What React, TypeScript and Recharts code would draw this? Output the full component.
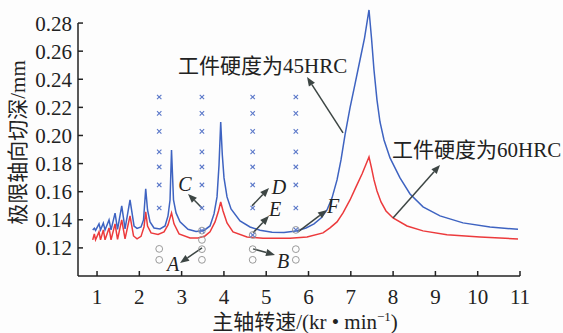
import React from 'react';
import {
  ComposedChart,
  Line,
  Scatter,
  XAxis,
  YAxis,
  ReferenceLine,
  ReferenceDot
} from 'recharts';

// 工件硬度 45HRC 的稳定性叶瓣 (蓝)
const blueSpeed = [
  0.898, 0.936, 0.965, 1.047, 1.083, 1.149, 1.189, 1.284, 1.331, 1.426, 1.485, 1.584,
  1.662, 1.78, 1.875, 1.946, 2.04, 2.099, 2.151, 2.194, 2.253, 2.347, 2.489, 2.608,
  2.678, 2.726, 2.761, 2.808, 2.868, 2.962, 3.151, 3.34, 3.53, 3.671, 3.766, 3.837,
  3.884, 3.924, 3.962, 4.002, 4.073, 4.168, 4.381, 4.617, 4.854, 5.138, 5.421, 5.705,
  5.941, 6.13, 6.296, 6.437, 6.556, 6.674, 6.768, 6.863, 6.981, 7.099, 7.217, 7.324,
  7.43, 7.489, 7.548, 7.619, 7.69, 7.785, 7.927, 8.163, 8.4, 8.707, 9.109, 9.652, 10.291, 10.953
];
const blueDepth = [
  0.1328, 0.134, 0.1324, 0.1371, 0.1328, 0.1376, 0.1328, 0.1399, 0.1328, 0.1447, 0.1332, 0.1499,
  0.1335, 0.1541, 0.1356, 0.1339, 0.1349, 0.1399, 0.162, 0.147, 0.1385, 0.1342, 0.1335, 0.1356,
  0.1428, 0.1541, 0.1897, 0.1541, 0.1449, 0.1385, 0.1332, 0.1317, 0.1324, 0.1356, 0.1442, 0.1563,
  0.179, 0.2096, 0.1861, 0.1698, 0.1563, 0.1477, 0.1392, 0.1349, 0.1325, 0.1312, 0.131, 0.1321,
  0.1342, 0.1371, 0.1413, 0.147, 0.1556, 0.1684, 0.1826, 0.2004, 0.2196, 0.2366, 0.2537, 0.2693,
  0.2893, 0.2694, 0.2466, 0.2252, 0.2096, 0.1968, 0.184, 0.1698, 0.1584, 0.1492, 0.1428, 0.1378, 0.1349, 0.1332
];

// 工件硬度 60HRC 的稳定性叶瓣 (红)
const redSpeed = [
  0.898, 0.936, 0.965, 1.047, 1.083, 1.149, 1.189, 1.284, 1.331, 1.426, 1.485, 1.584,
  1.662, 1.78, 1.863, 1.946, 2.04, 2.111, 2.151, 2.194, 2.277, 2.442, 2.584, 2.678,
  2.761, 2.82, 2.939, 3.199, 3.388, 3.553, 3.671, 3.79, 3.872, 3.924, 3.979, 4.073,
  4.215, 4.546, 4.924, 5.563, 5.965, 6.343, 6.508, 6.674, 6.816, 6.981, 7.123, 7.265,
  7.43, 7.489, 7.548, 7.619, 7.714, 7.832, 7.998, 8.329, 8.707, 9.274, 10.054, 10.953
];
const redDepth = [
  0.1257, 0.13, 0.1257, 0.1314, 0.1257, 0.1328, 0.1257, 0.1342, 0.1257, 0.1371, 0.126, 0.1399,
  0.1264, 0.1428, 0.1285, 0.1264, 0.1282, 0.1349, 0.1456, 0.1356, 0.1307, 0.1296, 0.1314, 0.1364,
  0.1449, 0.1371, 0.13, 0.1271, 0.1271, 0.1285, 0.1314, 0.1385, 0.1463, 0.1527, 0.1463, 0.1378,
  0.1314, 0.1278, 0.1268, 0.1268, 0.1278, 0.1307, 0.1342, 0.1385, 0.1449, 0.1541, 0.1634, 0.1726,
  0.1847, 0.1769, 0.1684, 0.1605, 0.1527, 0.1463, 0.1413, 0.1356, 0.1321, 0.1294, 0.1278, 0.1264
];

// 试验点
const testSpeeds = [2.47, 3.48, 4.68, 5.7];
const chatterDepths = [0.2274, 0.2157, 0.2029, 0.1883, 0.1776, 0.1648, 0.1484];
const boundarySpeeds = [3.48, 4.68, 5.7];
const boundaryDepths = [0.1323, 0.1292, 0.1328];
const stableSpeeds = [2.47, 2.47, 3.48, 3.48, 3.48, 4.68, 4.68, 5.7, 5.7];
const stableDepths = [0.1193, 0.1115, 0.1257, 0.1191, 0.1115, 0.1191, 0.1115, 0.1191, 0.1115];

const xTicks = [1, 2, 3, 4, 5, 6, 7, 8, 9, 10, 11];
const yTicks = [0.12, 0.14, 0.16, 0.18, 0.2, 0.22, 0.24, 0.26, 0.28];

const notes = [
  { x: 2.915, y: 0.2494, text: '工件硬度为45HRC', italic: false, anchor: 'start' },
  { x: 7.974, y: 0.1897, text: '工件硬度为60HRC', italic: false, anchor: 'start' },
  { x: 2.797, y: 0.1086, text: 'A', italic: true, anchor: 'middle' },
  { x: 5.397, y: 0.1108, text: 'B', italic: true, anchor: 'middle' },
  { x: 3.08, y: 0.1655, text: 'C', italic: true, anchor: 'middle' },
  { x: 5.303, y: 0.1636, text: 'D', italic: true, anchor: 'middle' },
  { x: 5.208, y: 0.148, text: 'E', italic: true, anchor: 'middle' },
  { x: 6.579, y: 0.1499, text: 'F', italic: true, anchor: 'middle' }
];

// 箭头: 起点 -> 终点(箭头尖)
const arrows = [
  [6.816, 0.2018, 5.965, 0.2416],
  [7.998, 0.1413, 9.109, 0.179],
  [3.482, 0.1484, 3.151, 0.1584],
  [4.664, 0.1499, 5.066, 0.1627],
  [4.688, 0.1307, 5.066, 0.1428],
  [5.752, 0.1314, 6.437, 0.147],
  [3.482, 0.12, 2.962, 0.1093],
  [4.688, 0.1193, 5.208, 0.115]
];

const FONT = "'Liberation Serif', 'Times New Roman', 'DejaVu Serif', 'Noto Sans CJK SC', serif";
const INK = '#222';

const blueData = blueSpeed.map((x, i) => ({ x, y: blueDepth[i] }));
const redData = redSpeed.map((x, i) => ({ x, y: redDepth[i] }));
const chatterData = testSpeeds.flatMap(x => chatterDepths.map(y => ({ x, y })));
const boundaryData = boundarySpeeds.map((x, i) => ({ x, y: boundaryDepths[i] }));
const stableData = stableSpeeds.map((x, i) => ({ x, y: stableDepths[i] }));

const Cross = ({ cx, cy }: any) => (
  <g stroke="#5b78c9" strokeWidth={1.1}>
    <line x1={cx - 2.2} y1={cy - 2.2} x2={cx + 2.2} y2={cy + 2.2} />
    <line x1={cx - 2.2} y1={cy + 2.2} x2={cx + 2.2} y2={cy - 2.2} />
  </g>
);

const Ring = ({ cx, cy }: any) => (
  <circle cx={cx} cy={cy} r={3.4} fill="none" stroke="#9a9a9a" strokeWidth={1} />
);

const RingCross = (p: any) => (
  <g>
    <Ring {...p} />
    <Cross {...p} />
  </g>
);

const Arrow = ({ x1, y1, x2, y2 }: any) => {
  const ang = Math.atan2(y2 - y1, x2 - x1);
  const len = 9;
  const w = 3.6;
  const bx = x2 - len * Math.cos(ang);
  const by = y2 - len * Math.sin(ang);
  const px = -Math.sin(ang) * w;
  const py = Math.cos(ang) * w;
  return (
    <g>
      <line x1={x1} y1={y1} x2={bx} y2={by} stroke="#3d4644" strokeWidth={1.5} />
      <polygon points={`${x2},${y2} ${bx + px},${by + py} ${bx - px},${by - py}`} fill="#3d4644" />
    </g>
  );
};

const YTitle = ({ viewBox }: any) => (
  <text
    x={viewBox.x + 18}
    y={viewBox.y + viewBox.height / 2}
    transform={`rotate(-90, ${viewBox.x + 18}, ${viewBox.y + viewBox.height / 2})`}
    textAnchor="middle"
    dominantBaseline="central"
    style={{ fontFamily: FONT }}
    fontSize={21}
    fill={INK}
  >
    极限轴向切深/mm
  </text>
);

const XTitle = ({ viewBox }: any) => (
  <text
    x={viewBox.x + viewBox.width / 2 + 6}
    y={viewBox.y + 53}
    textAnchor="middle"
    style={{ fontFamily: FONT }}
    fontSize={21}
    fill={INK}
  >
    主轴转速/(kr • min
    <tspan dy={-8} fontSize={13}>−1</tspan>
    <tspan dy={8}>)</tspan>
  </text>
);

export default function App() {
  return (
    <div style={{ position: 'absolute', left: 0, top: 0, width: 563, height: 333, background: '#fdfdfd', fontFamily: FONT }}>
      <ComposedChart width={563} height={333} margin={{ top: 9, right: 43, left: 0, bottom: 0 }}>
        <XAxis
          type="number"
          dataKey="x"
          domain={[0.55, 11]}
          ticks={xTicks}
          interval={0}
          height={57}
          stroke={INK}
          strokeWidth={1.5}
          tickSize={-5}
          tickMargin={18}
          tick={{ fontFamily: FONT, fontSize: 21, fill: INK }}
          label={<XTitle />}
        />
        <YAxis
          type="number"
          dataKey="y"
          domain={[0.1, 0.29]}
          ticks={yTicks}
          interval={0}
          width={78}
          axisLine={false}
          stroke={INK}
          strokeWidth={1.5}
          tickSize={-5}
          tickMargin={11}
          tickFormatter={(v: number) => v.toFixed(2)}
          tick={{ fontFamily: FONT, fontSize: 21, fill: INK }}
          label={<YTitle />}
        />
        <ReferenceLine
          segment={[{ x: 0.55, y: 0.1 }, { x: 0.55, y: 0.28 }]}
          stroke={INK}
          strokeWidth={1.5}
        />
        <Line data={redData} dataKey="y" type="linear" stroke="#ec3a3c" strokeWidth={1.5} dot={false} isAnimationActive={false} />
        <Line data={blueData} dataKey="y" type="linear" stroke="#3e63c1" strokeWidth={1.5} dot={false} isAnimationActive={false} />
        <Scatter data={chatterData} dataKey="y" shape={<Cross />} isAnimationActive={false} />
        <Scatter data={stableData} dataKey="y" shape={<Ring />} isAnimationActive={false} />
        <Scatter data={boundaryData} dataKey="y" shape={<RingCross />} isAnimationActive={false} />
        {arrows.map((a, i) => (
          <ReferenceLine
            key={'a' + i}
            segment={[{ x: a[0], y: a[1] }, { x: a[2], y: a[3] }]}
            shape={(p: any) => <Arrow {...p} />}
          />
        ))}
        {notes.map((n, i) => (
          <ReferenceDot
            key={'n' + i}
            x={n.x}
            y={n.y}
            r={0}
            shape={(p: any) => (
              <text
                x={p.cx}
                y={p.cy}
                textAnchor={n.anchor as any}
                dominantBaseline="central"
                style={{ fontFamily: FONT, fontStyle: n.italic ? 'italic' : 'normal' }}
                fontSize={n.italic ? 20 : 21}
                fill={INK}
              >
                {n.text}
              </text>
            )}
          />
        ))}
      </ComposedChart>
    </div>
  );
}
